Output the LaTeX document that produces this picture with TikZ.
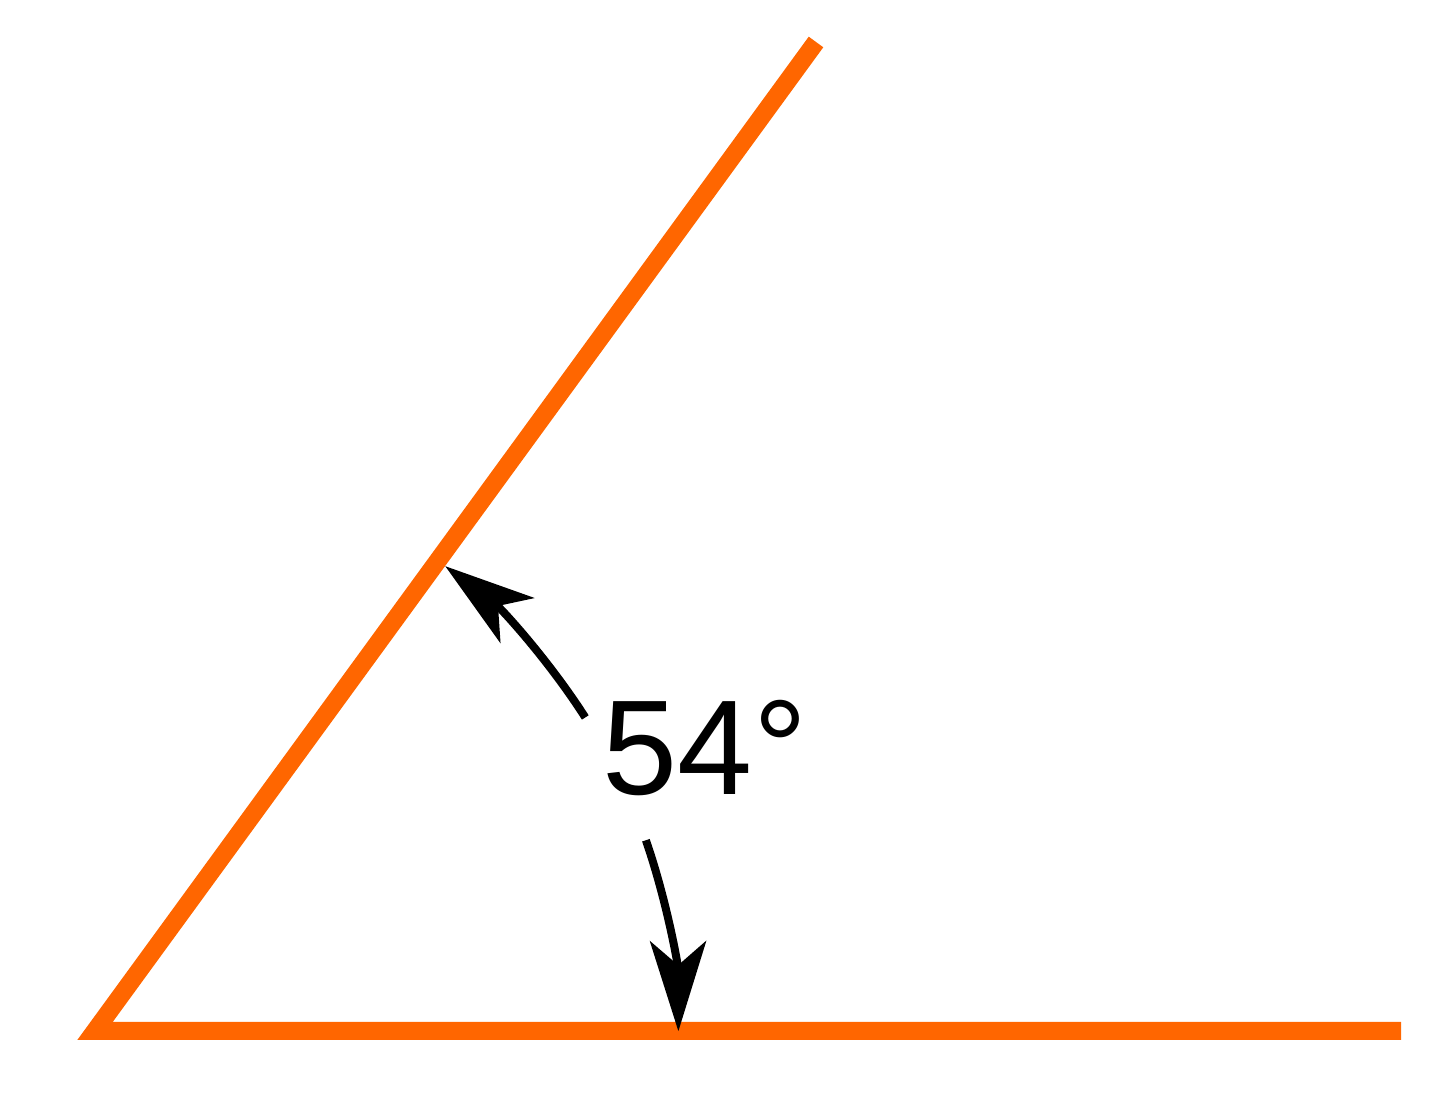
\documentclass[tikz,border=0pt]{standalone}
\usepackage{fontspec}
\setmainfont{Liberation Sans}
\usetikzlibrary{arrows.meta,calc}
\definecolor{rayorange}{HTML}{FF6600}
\tikzset{
  ray/.style={draw=rayorange, line width=18pt, line join=miter},
  pointer/.style={draw=black, line width=8pt, -{Stealth[length=90pt, width=56pt, inset=24pt]}},
  anglelabel/.style={inner sep=0pt, font=\fontsize{135}{140}\selectfont}
}
\begin{document}
\begin{tikzpicture}[x=1pt,y=1pt]
\useasboundingbox (0,0) rectangle (1440,1118);
\coordinate (V) at (95,87);
\coordinate (T) at (816,1076);
\coordinate (R) at (1401,87);
\draw[ray] (T) -- (V) -- (R);
\node[anglelabel] (lbl) at (705,370) {54°};
\coordinate (u0) at ($(V)+(32.6:582)$);
\coordinate (l0) at ($(V)+(19.1:583)$);
\draw[pointer] (u0) arc[start angle=32.6, end angle=53.0, radius=582];
\draw[pointer] (l0) arc[start angle=19.1, end angle=0.2, radius=590];
\end{tikzpicture}
\end{document}
